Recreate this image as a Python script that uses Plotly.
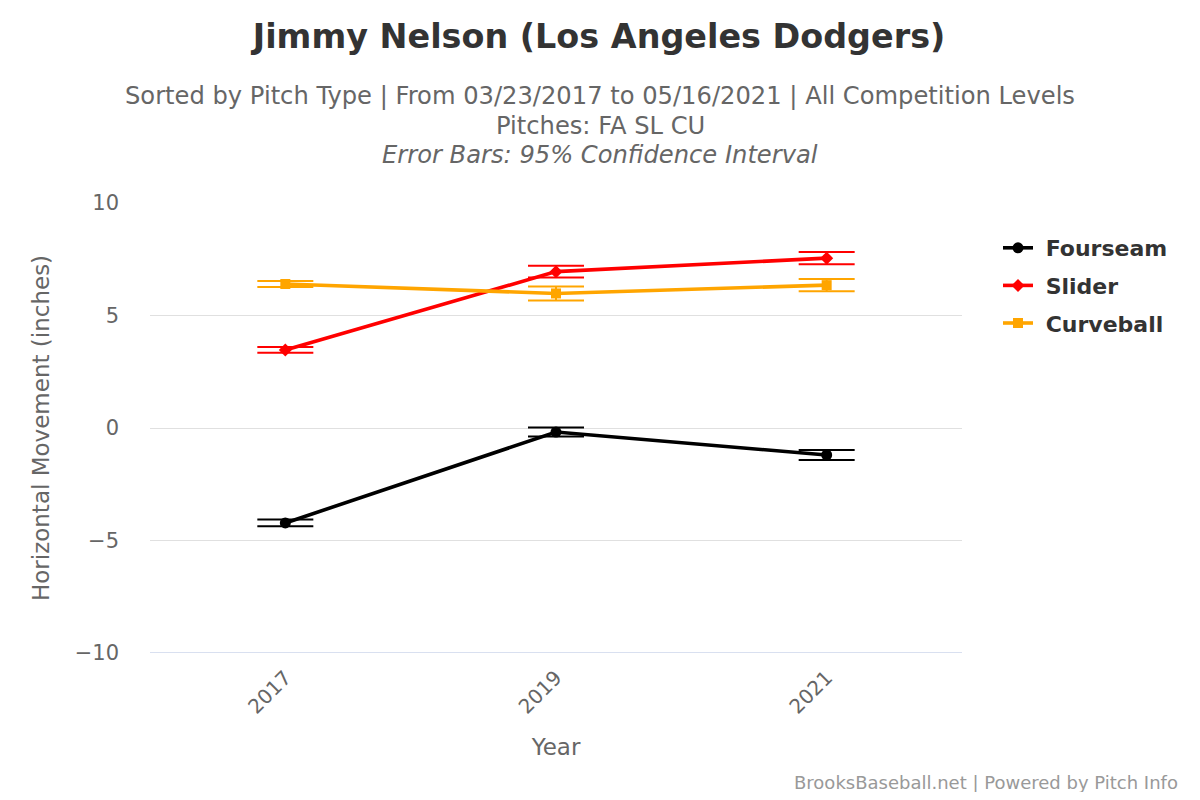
import plotly.graph_objects as go

# pitch movement data
years = ["2017", "2019", "2021"]
pitch_names = ["Fourseam", "Slider", "Curveball"]
fourseam = [-4.22, -0.18, -1.2]
fourseam_err = [0.15, 0.2, 0.22]
slider = [3.47, 6.95, 7.55]
slider_err = [0.13, 0.26, 0.27]
curveball = [6.4, 5.98, 6.35]
curveball_err = [0.13, 0.31, 0.27]

colors = ["#000000", "#ff0000", "#ffa500"]
symbols = ["circle", "diamond", "square"]
sizes = [11, 10, 10]

font_family = "DejaVu Sans"

# page body has an 8px margin, so the figure is drawn 8px in from the corner
W, H = 1184, 784
OFF = 8
plot_l, plot_r, plot_t, plot_b = 150, 962, 203, 653


def px_x(x):
    return (x - plot_l) / (plot_r - plot_l)


def px_y(y):
    return (plot_b - y) / (plot_b - plot_t)


fig = go.Figure()
for i, (name, vals, errs, col, sym, sz) in enumerate(zip(
    pitch_names,
    [fourseam, slider, curveball],
    [fourseam_err, slider_err, curveball_err],
    colors, symbols, sizes,
)):
    fig.add_trace(go.Scatter(
        x=years,
        y=vals,
        name="<b> " + name + "</b>",
        legendgroup="g%d" % i,
        mode="lines+markers",
        line={"color": col, "width": 3.6},
        marker={"symbol": sym, "size": sz, "color": col},
        error_y={"type": "data", "array": errs, "visible": True,
                 "color": col, "thickness": 2, "width": 28},
    ))

fig.update_layout(
    width=W,
    height=H,
    paper_bgcolor="white",
    plot_bgcolor="white",
    font={"family": font_family, "color": "#666666"},
    margin={"l": plot_l - OFF, "r": W + OFF - plot_r, "t": plot_t - OFF, "b": H + OFF - plot_b,
            "autoexpand": False},
    title={
        "text": "<b>Jimmy Nelson (Los Angeles Dodgers)</b>",
        "x": (599 - OFF) / W, "xanchor": "center", "xref": "container",
        "y": 1 - (36 - OFF) / H, "yanchor": "middle", "yref": "container",
        "font": {"size": 33.4, "color": "#333333", "family": font_family},
    },
    showlegend=True,
    legend={
        "x": px_x(998), "xanchor": "left", "y": px_y(227), "yanchor": "top",
        "font": {"size": 22, "color": "#333333", "family": font_family},
        "itemwidth": 30, "tracegroupgap": 6,
    },
    xaxis={
        "type": "category",
        "range": [-0.5, 2.5],
        "tickangle": -45,
        "tickfont": {"size": 20, "color": "#666666"},
        "ticklabelstandoff": 8,
        "title": {"text": "Year", "font": {"size": 23, "color": "#666666"}, "standoff": 21},
        "showgrid": False,
        "showline": False,
        "zeroline": False,
        "ticks": "",
    },
    yaxis={
        "range": [-10, 10],
        "tickvals": [-10, -5, 0, 5, 10],
        "ticktext": ["\u221210", "\u22125", "0", "5", "10"],
        "tickfont": {"size": 21, "color": "#666666"},
        "ticklabelstandoff": 30,
        "title": {"text": "Horizontal Movement (inches)", "font": {"size": 23, "color": "#666666"},
                  "standoff": 18},
        "gridcolor": "#e0e0e0",
        "gridwidth": 1.2,
        "zeroline": False,
        "ticks": "",
    },
)

# bottom axis line (Highcharts style)
fig.add_shape(type="line", xref="paper", yref="y", x0=0, x1=1, y0=-10, y1=-10,
              line={"color": "#ccd6eb", "width": 1.5})

subtitle = [
    ("Sorted by Pitch Type | From 03/23/2017 to 05/16/2021 | All Competition Levels", 96),
    ("Pitches: FA SL CU", 126),
    ("<i>Error Bars: 95% Confidence Interval</i>", 155),
]
for txt, ypx in subtitle:
    fig.add_annotation(
        text=txt, xref="paper", yref="paper",
        x=px_x(600), y=px_y(ypx),
        showarrow=False, xanchor="center", yanchor="middle",
        font={"size": 24.2, "color": "#666666"},
    )

fig.add_annotation(
    text="BrooksBaseball.net | Powered by Pitch Info",
    xref="paper", yref="paper",
    x=px_x(1180), y=px_y(783),
    showarrow=False, xanchor="right", yanchor="middle",
    font={"size": 18, "color": "#999999"},
)

fig.write_html("out.html")
